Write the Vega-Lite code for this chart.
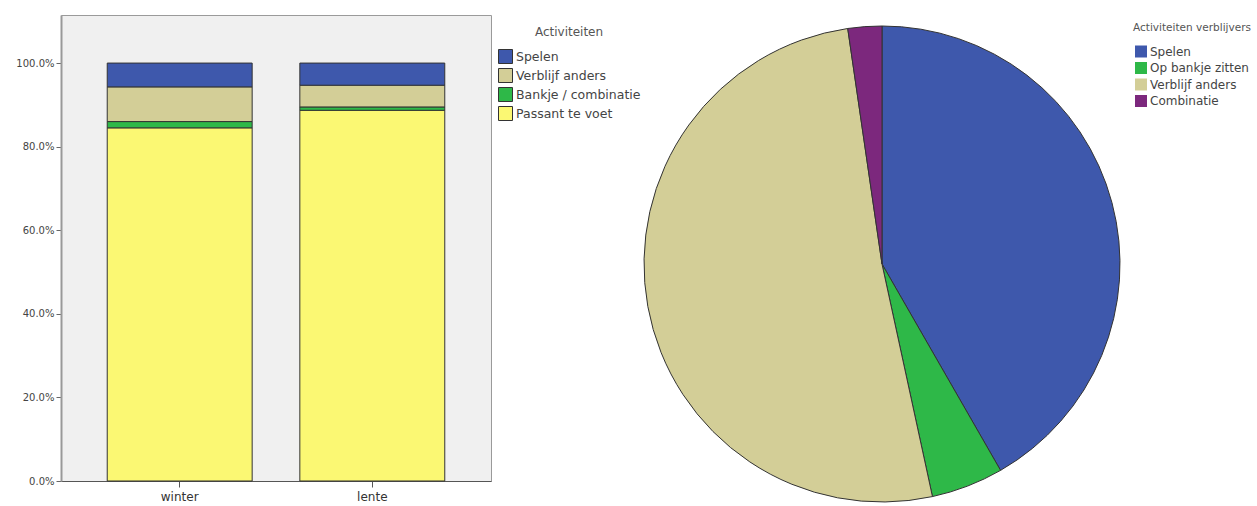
{
  "$schema": "https://vega.github.io/schema/vega-lite/v6.json",
  "padding": {"left": 0, "top": 14, "right": 0, "bottom": 0},
  "background": "white",
  "spacing": 0,
  "config": {"font": "DejaVu Sans"},
  "resolve": {"scale": {"color": "independent"}, "legend": {"color": "independent"}},
  "datasets": {
    "bars": [
      {"seizoen": "winter", "activiteit": "Passant te voet", "aandeel": 0.845, "stapel": 1},
      {"seizoen": "winter", "activiteit": "Bankje / combinatie", "aandeel": 0.015, "stapel": 2},
      {"seizoen": "winter", "activiteit": "Verblijf anders", "aandeel": 0.083, "stapel": 3},
      {"seizoen": "winter", "activiteit": "Spelen", "aandeel": 0.057, "stapel": 4},
      {"seizoen": "lente", "activiteit": "Passant te voet", "aandeel": 0.887, "stapel": 1},
      {"seizoen": "lente", "activiteit": "Bankje / combinatie", "aandeel": 0.008, "stapel": 2},
      {"seizoen": "lente", "activiteit": "Verblijf anders", "aandeel": 0.052, "stapel": 3},
      {"seizoen": "lente", "activiteit": "Spelen", "aandeel": 0.053, "stapel": 4}
    ],
    "pie": [
      {"verblijf": "Spelen", "waarde": 41.7, "volgorde": 1},
      {"verblijf": "Op bankje zitten", "waarde": 4.9, "volgorde": 2},
      {"verblijf": "Verblijf anders", "waarde": 51.1, "volgorde": 3},
      {"verblijf": "Combinatie", "waarde": 2.3, "volgorde": 4}
    ]
  },
  "hconcat": [
    {
      "data": {"name": "bars"},
      "width": 430,
      "height": 466,
      "view": {"fill": "#F0F0F0", "stroke": "#9a9a9a", "strokeWidth": 1},
      "mark": {"type": "bar", "stroke": "#333333", "strokeWidth": 1},
      "encoding": {
        "x": {
          "field": "seizoen", "type": "nominal", "sort": ["winter", "lente"],
          "scale": {"paddingInner": 0.2475, "paddingOuter": 0.24},
          "axis": {"title": null, "labelAngle": 0, "labelFontSize": 12, "labelColor": "#333333",
                   "domainColor": "#555555", "tickColor": "#555555", "labelPadding": 4, "tickSize": 6}
        },
        "y": {
          "field": "aandeel", "type": "quantitative", "stack": "zero",
          "scale": {"domain": [0, 1.115], "nice": false},
          "axis": {"title": null, "values": [0, 0.2, 0.4, 0.6, 0.8, 1.0], "format": ".1%", "grid": false,
                   "labelFontSize": 10, "labelColor": "#444444", "minExtent": 60, "maxExtent": 60,
                   "domainWidth": 2, "domainColor": "#999999", "tickColor": "#666666", "tickSize": 5}
        },
        "color": {
          "field": "activiteit", "type": "nominal",
          "scale": {"domain": ["Spelen", "Verblijf anders", "Bankje / combinatie", "Passant te voet"],
                    "range": ["#3E58AC", "#D3CE97", "#2EB848", "#FBF873"]},
          "legend": {"title": "Activiteiten", "titleFontSize": 12, "titleFontWeight": "normal", "titleColor": "#555555",
                     "titleAnchor": "middle", "labelFontSize": 12.5, "labelColor": "#444444", "symbolType": "square",
                     "symbolSize": 196, "symbolStrokeColor": "#333333", "symbolStrokeWidth": 1, "rowPadding": 0,
                     "orient": "none", "legendX": 437, "legendY": 12, "padding": 0, "labelOffset": 3, "titlePadding": 10}
        },
        "order": {"field": "stapel", "type": "quantitative"}
      }
    },
    {
      "data": {"name": "pie"},
      "width": 476,
      "height": 476,
      "view": {"stroke": null},
      "mark": {"type": "arc", "stroke": "#333333", "strokeWidth": 1, "yOffset": 11},
      "encoding": {
        "theta": {"field": "waarde", "type": "quantitative", "stack": true},
        "color": {
          "field": "verblijf", "type": "nominal",
          "scale": {"domain": ["Spelen", "Op bankje zitten", "Verblijf anders", "Combinatie"],
                    "range": ["#3E58AC", "#2EB848", "#D3CE97", "#7C287D"]},
          "legend": {"title": "Activiteiten verblijvers", "titleFontSize": 10.5, "titleFontWeight": "normal", "titleColor": "#555555",
                     "titleAnchor": "middle", "labelFontSize": 12, "labelColor": "#444444", "symbolType": "square",
                     "symbolSize": 144, "symbolStrokeWidth": 0, "rowPadding": 4.5,
                     "orient": "none", "legendX": 489, "legendY": 8, "padding": 0, "labelOffset": 3, "titlePadding": 12}
        },
        "order": {"field": "volgorde", "type": "quantitative"}
      }
    }
  ]
}
